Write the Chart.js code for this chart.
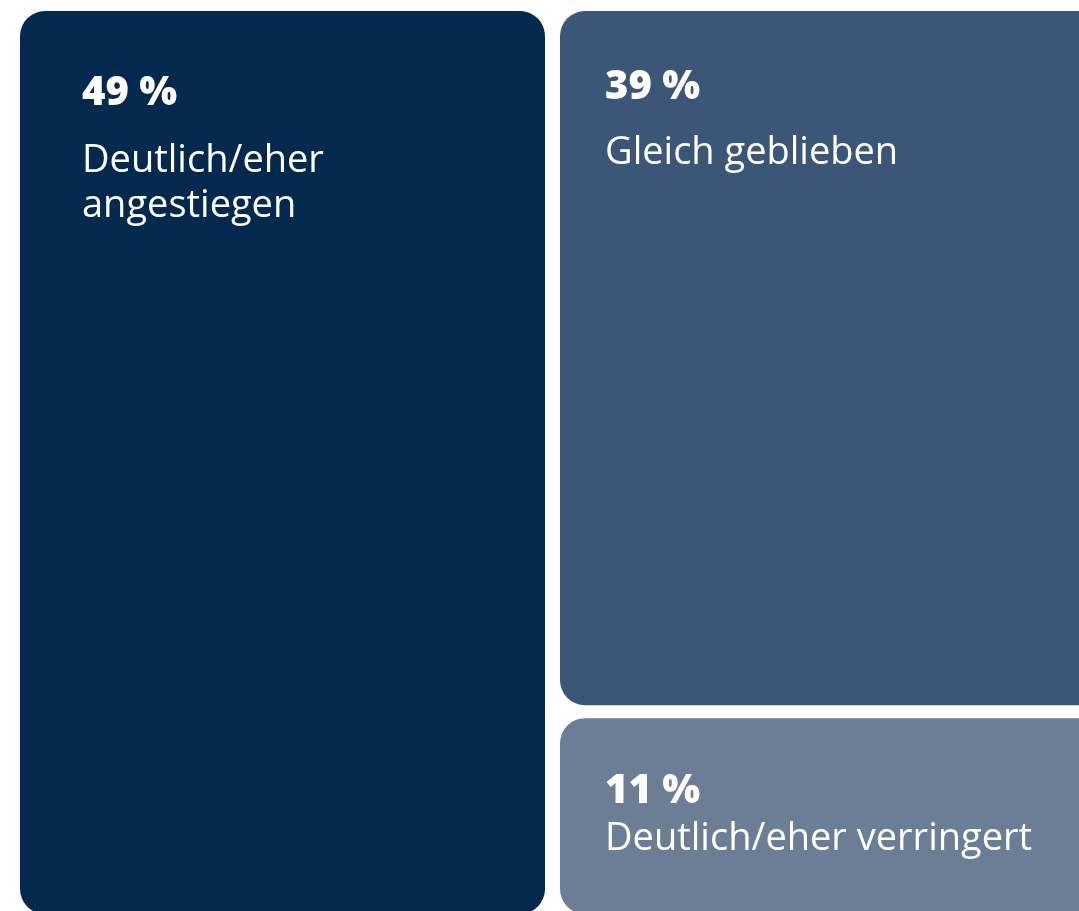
<!DOCTYPE html>
<html lang="de">
<head>
<meta charset="UTF-8">
<title>Treemap</title>
<script src="https://cdn.jsdelivr.net/npm/chart.js"></script>
<style>
  html, body { margin: 0; padding: 0; background: #fff; overflow: hidden; }
  #treemap { position: absolute; left: 0; top: 0; }
</style>
</head>
<body>
<canvas id="treemap" width="1100" height="914"></canvas>
<script>
// Werte aus der Grafik
const categories = ['Deutlich/eher angestiegen', 'Gleich geblieben', 'Deutlich/eher verringert'];
const shares = [49, 39, 11];
const columns = [0, 1, 1];          // 0 = linke Spalte, 1 = rechte Spalte
const columnLabels = ['links', 'rechts'];

const colors = ['#04294f', '#3c5677', '#6b7e96'];
// Textabstand je Feld (links, oben)
const padX = [62, 45, 45];
const padTop = [94, 88, 85];
const gapFrac = 13 / 903;

// Bereiche je Spalte, von unten nach oben gestapelt
function buildRanges() {
  const ranges = [];
  const colTotal = [0, 0];
  shares.forEach((v, i) => colTotal[columns[i]] += v);
  const used = [0, 0];
  for (let i = shares.length - 1; i >= 0; i--) {
    const c = columns[i];
    const nInCol = columns.filter(x => x === c).length;
    const avail = 1 - gapFrac * (nInCol - 1);
    const start = used[c];
    const end = start + shares[i] / colTotal[c] * avail;
    ranges[i] = [start, Math.min(1, end)];
    used[c] = end + gapFrac;
  }
  return ranges;
}
const ranges = buildRanges();

const datasets = categories.map((name, i) => ({
  label: name,
  data: columnLabels.map((_, c) => c === columns[i] ? ranges[i] : null),
  backgroundColor: colors[i],
  // rechte Spalte läuft über den Bildrand hinaus
  borderRadius: columns[i] === 1
    ? { topLeft: 25, bottomLeft: 25, topRight: 0, bottomRight: 0 }
    : 25,
  borderSkipped: false,
  grouped: false,
  barPercentage: 1,
  categoryPercentage: 525 / 540
}));

const labelPlugin = {
  id: 'labels',
  afterDatasetsDraw(chart) {
    const ctx = chart.ctx;
    ctx.save();
    ctx.fillStyle = '#ffffff';
    ctx.textBaseline = 'alphabetic';
    ctx.textAlign = 'left';
    chart.data.datasets.forEach((ds, i) => {
      const el = chart.getDatasetMeta(i).data[columns[i]];
      const left = el.x - el.width / 2;
      const top = Math.min(el.y, el.base);
      const x = left + padX[i];
      let y = top + padTop[i];
      ctx.font = '800 40px "Open Sans"';
      ctx.fillText(shares[i] + ' %', x, y);
      ctx.font = '400 38px "Open Sans"';
      const maxW = el.width - 2 * padX[i];
      const words = categories[i].split(' ');
      const lines = [];
      let line = '';
      words.forEach(w => {
        const test = line ? line + ' ' + w : w;
        if (ctx.measureText(test).width > maxW && line) {
          lines.push(line);
          line = w;
        } else {
          line = test;
        }
      });
      lines.push(line);
      y += (i === 0 ? 67 : (i === 1 ? 65 : 47));
      lines.forEach(l => {
        ctx.fillText(l, x, y);
        y += 45;
      });
    });
    ctx.restore();
  }
};

new Chart(document.getElementById('treemap'), {
  type: 'bar',
  data: { labels: columnLabels, datasets: datasets },
  options: {
    responsive: false,
    animation: false,
    layout: { padding: { left: 12.5, right: 7.5, top: 11, bottom: 0 } },
    scales: {
      x: { display: false },
      y: { display: false, min: 0, max: 1 }
    },
    plugins: {
      legend: { display: false },
      tooltip: { enabled: false }
    }
  },
  plugins: [labelPlugin]
});
</script>
</body>
</html>
